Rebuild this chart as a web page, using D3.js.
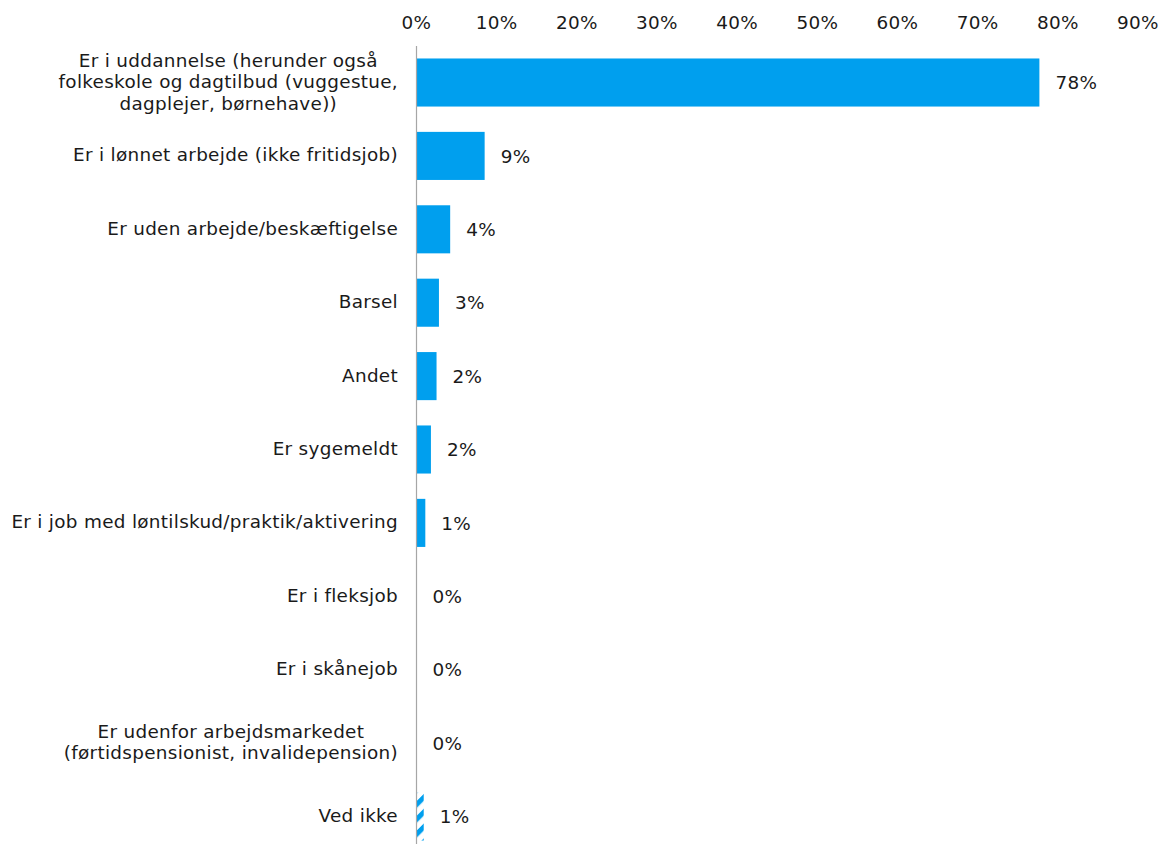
<!DOCTYPE html>
<html>
  <head>
    <meta charset="utf-8" />
    <script src="https://d3js.org/d3.v7.min.js"></script>
    <style>
      body {
        margin: 0;
        background: white;
      }
      text {
        font-family: "DejaVu Sans", Verdana, sans-serif;
        font-size: 18.4px;
        letter-spacing: 0.3px;
        fill: #1a1a1a;
      }
    </style>
  </head>
  <body>
    <svg id="chart" width="1163" height="844"></svg>

    <script>
      // categories (line breaks as in the original labels)
      const categories = [
        ["Er i uddannelse (herunder også", "folkeskole og dagtilbud (vuggestue,", "dagplejer, børnehave))"],
        ["Er i lønnet arbejde (ikke fritidsjob)"],
        ["Er uden arbejde/beskæftigelse"],
        ["Barsel"],
        ["Andet"],
        ["Er sygemeldt"],
        ["Er i job med løntilskud/praktik/aktivering"],
        ["Er i fleksjob"],
        ["Er i skånejob"],
        ["Er udenfor arbejdsmarkedet", "(førtidspensionist, invalidepension)"],
        ["Ved ikke"],
      ];
      const values = [77.7, 8.5, 4.2, 2.8, 2.5, 1.8, 1.1, 0, 0, 0, 0.9];
      const valueLabels = ["78%", "9%", "4%", "3%", "2%", "2%", "1%", "0%", "0%", "0%", "1%"];
      const hatched = [false, false, false, false, false, false, false, false, false, false, true];
      const tickValues = [0, 10, 20, 30, 40, 50, 60, 70, 80, 90];

      const svg = d3.select("#chart");

      const x = d3.scaleLinear().domain([0, 90]).range([416.5, 1138]);
      const y = d3
        .scaleBand()
        .domain(d3.range(categories.length))
        .range([46, 853])
        .paddingInner(0.345)
        .paddingOuter(0.17);

      // hatch for "Ved ikke"
      const defs = svg.append("defs");
      const pat = defs
        .append("pattern")
        .attr("id", "hatch")
        .attr("patternUnits", "userSpaceOnUse")
        .attr("width", 10.5)
        .attr("height", 10.5)
        .attr("patternTransform", "rotate(45)");
      pat
        .append("rect")
        .attr("width", 5)
        .attr("height", 10.5)
        .attr("fill", "#009fee");

      // top axis labels
      svg
        .append("g")
        .selectAll("text")
        .data(tickValues)
        .join("text")
        .attr("x", (d) => x(d))
        .attr("y", 28.5)
        .attr("text-anchor", "middle")
        .text((d) => d + "%");

      // bars
      svg
        .append("g")
        .selectAll("rect")
        .data(values)
        .join("rect")
        .attr("x", x(0) + 0.5)
        .attr("y", (d, i) => y(i))
        .attr("width", (d) => Math.max(0, x(d) - x(0) - 0.5))
        .attr("height", y.bandwidth())
        .attr("fill", (d, i) => (hatched[i] ? "url(#hatch)" : "#009fee"));

      // value labels
      svg
        .append("g")
        .selectAll("text")
        .data(values)
        .join("text")
        .attr("x", (d) => x(d) + 16)
        .attr("y", (d, i) => y(i) + y.bandwidth() / 2)
        .attr("dy", "0.36em")
        .text((d, i) => valueLabels[i]);

      // category labels, multi-line centred on the widest line, right aligned
      const lineH = 21.5;
      const labelRight = 398;
      categories.forEach((lines, i) => {
        const cy = y(i) + y.bandwidth() / 2;
        const g = svg.append("g");
        const texts = lines.map((l, k) =>
          g
            .append("text")
            .attr("y", cy + (k - (lines.length - 1) / 2) * lineH)
            .attr("dy", "0.3em")
            .attr("text-anchor", "middle")
            .text(l)
        );
        const maxW = d3.max(texts, (t) => t.node().getComputedTextLength());
        texts.forEach((t) => t.attr("x", labelRight - maxW / 2));
      });

      // vertical axis line
      svg
        .append("line")
        .attr("x1", x(0))
        .attr("x2", x(0))
        .attr("y1", 46)
        .attr("y2", 853)
        .attr("stroke", "#a6a6a6")
        .attr("stroke-width", 1.2);
    </script>
  </body>
</html>
